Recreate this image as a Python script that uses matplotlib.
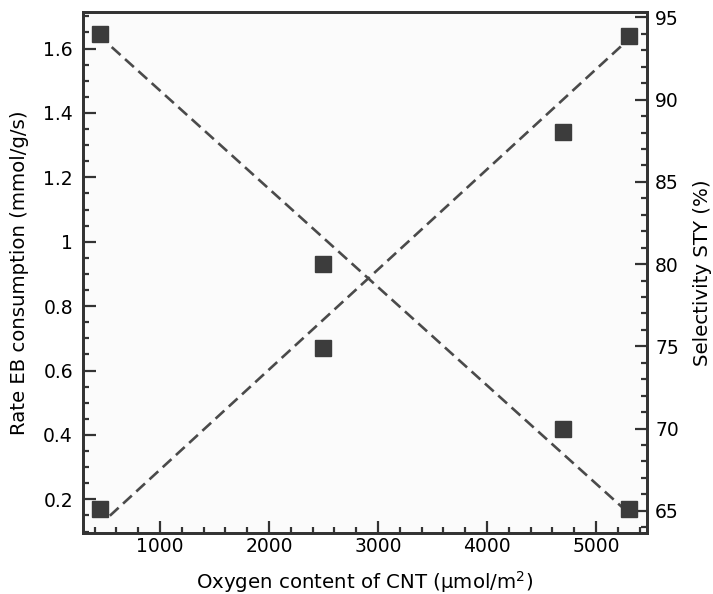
import matplotlib
matplotlib.use("Agg")
import matplotlib.pyplot as plt
from matplotlib.ticker import MultipleLocator, FuncFormatter

# data
oxygen = [450, 2500, 4700, 5300]
rate_eb = [0.17, 0.67, 1.34, 1.64]
selectivity = [94.0, 80.0, 70.0, 65.1]

# dashed trend lines (end points)
rate_fit_x = [540, 5290]
rate_fit_y = [0.149, 1.626]
sel_fit_x = [557, 5236]
sel_fit_y = [93.2, 65.24]

INK = "#333333"
MARK = "#3c3c3c"
LINE = "#4a4a4a"

plt.rcParams.update({
    "font.family": ["DejaVu Sans"],
    "font.size": 13.5,
    "axes.linewidth": 2.0,
    "axes.edgecolor": INK,
})

fig = plt.figure(figsize=(7.13, 5.94), dpi=100)
ax = fig.add_axes([0.116, 0.103, 0.791, 0.877])
ax.set_facecolor("#fbfbfb")
ax2 = ax.twinx()

ax.plot(rate_fit_x, rate_fit_y, color=LINE, lw=1.9, dashes=(4.5, 2.3), zorder=2)
ax2.plot(sel_fit_x, sel_fit_y, color=LINE, lw=1.9, dashes=(4.5, 2.3), zorder=2)
ax.plot(oxygen, rate_eb, "s", color=MARK, markersize=11, zorder=3)
ax2.plot(oxygen, selectivity, "s", color=MARK, markersize=11, zorder=3)

ax.set_xlim(291, 5465)
ax.set_ylim(0.096, 1.714)
ax2.set_ylim(63.66, 95.34)

ax.xaxis.set_major_locator(MultipleLocator(1000))
ax.xaxis.set_minor_locator(MultipleLocator(200))
ax.yaxis.set_major_locator(MultipleLocator(0.2))
ax.yaxis.set_minor_locator(MultipleLocator(0.05))
ax2.yaxis.set_major_locator(MultipleLocator(5))
ax2.yaxis.set_minor_locator(MultipleLocator(1))
ax.yaxis.set_major_formatter(FuncFormatter(lambda v, p: f"{v:g}"))

ax.tick_params(axis="x", which="both", direction="in", top=False,
               color=INK, width=1.6, pad=3)
ax.tick_params(axis="x", which="major", length=9)
ax.tick_params(axis="x", which="minor", length=4.5)
ax.tick_params(axis="y", which="both", direction="in", right=False,
               color=INK, width=1.6, pad=7)
ax.tick_params(axis="y", which="major", length=9)
ax.tick_params(axis="y", which="minor", length=4.2)
ax2.tick_params(axis="y", which="both", direction="in", color=INK,
                width=1.6, pad=6)
ax2.tick_params(axis="y", which="major", length=9)
ax2.tick_params(axis="y", which="minor", length=4.2)

ax.set_xlabel("Oxygen content of CNT (\u03bcmol/m$^2$)", fontsize=14.2,
              labelpad=9.5)
ax.set_ylabel("Rate EB consumption (mmol/g/s)", fontsize=14.2, labelpad=10)
ax2.set_ylabel("Selectivity STY (%)", fontsize=14.2, labelpad=10)

fig.savefig("out.png", dpi=100)
